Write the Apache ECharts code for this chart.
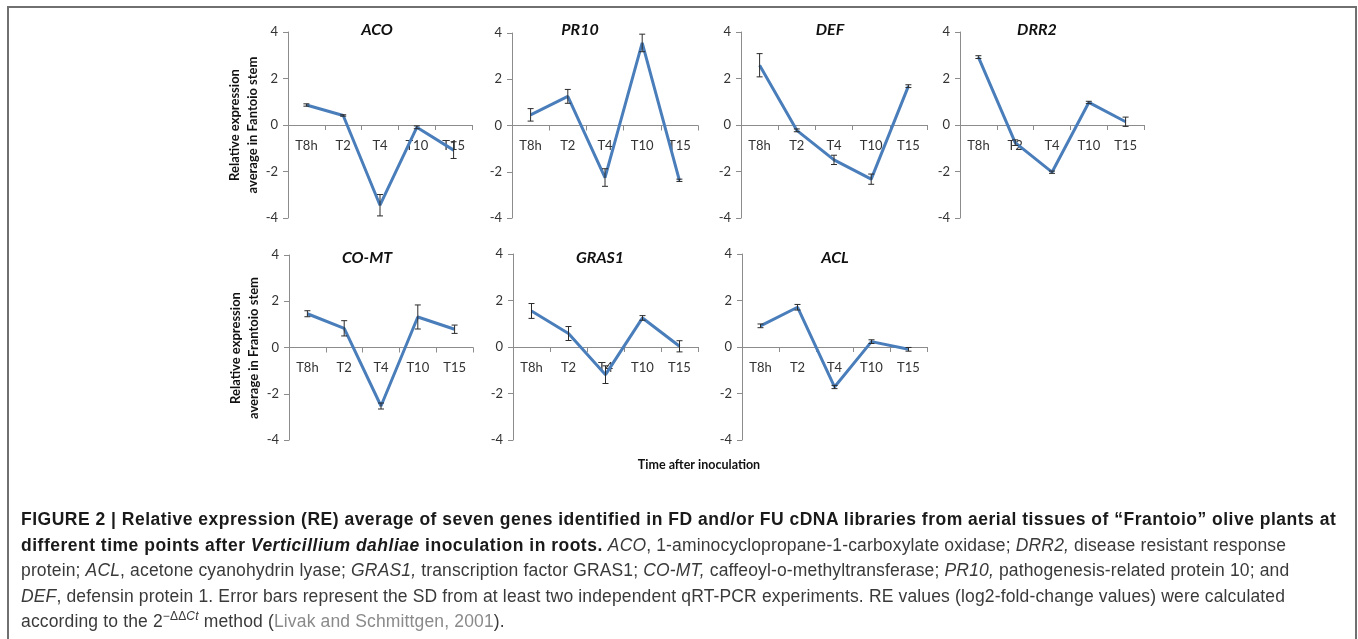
<!DOCTYPE html>
<html>
<head>
<meta charset="utf-8">
<script src="https://cdn.jsdelivr.net/npm/echarts@6/dist/echarts.min.js"></script>
<style>
	html, body { margin: 0; padding: 0; background: #fff; }
	#frame {
		position: absolute; left: 7px; top: 6px; width: 1346px; height: 700px;
		border: 2px solid #707070; border-bottom: none;
	}
	#chart { position: absolute; left: 0; top: 0; width: 1358px; height: 639px; }
	#caption {
		position: absolute; left: 21px; top: 507px; white-space: nowrap;
		font-family: 'Liberation Sans', Arial, sans-serif; font-size: 17.5px; line-height: 25.5px;
		color: #3a3a3a; letter-spacing: 0.15px;
	}
	#caption b { color: #1a1a1a; letter-spacing: 0.5px; }
	#caption .ref { color: #8a8a8a; }
	#caption sup { font-size: 12px; vertical-align: 7px; line-height: 0; }
</style>
</head>
<body>
<div id="frame"></div>
<div id="chart"></div>
<div id="caption">
	<b>FIGURE 2 | Relative expression (RE) average of seven genes identified in FD and/or FU cDNA libraries from aerial tissues of “Frantoio” olive plants at</b><br>
	<b>different time points after <i>Verticillium dahliae</i> inoculation in roots.</b> <i>ACO</i>, 1-aminocyclopropane-1-carboxylate oxidase; <i>DRR2,</i> disease resistant response<br>
	protein; <i>ACL</i>, acetone cyanohydrin lyase; <i>GRAS1,</i> transcription factor GRAS1; <i>CO-MT,</i> caffeoyl-o-methyltransferase; <i>PR10,</i> pathogenesis-related protein 10; and<br>
	<i>DEF</i>, defensin protein 1. Error bars represent the SD from at least two independent qRT-PCR experiments. RE values (log2-fold-change values) were calculated<br>
	according to the 2<sup>−ΔΔ<i>Ct</i></sup> method (<span class="ref">Livak and Schmittgen, 2001</span>).
</div>
<script>
var times = ['T8h', 'T2', 'T4', 'T10', 'T15']
var yTicks = [-4, -2, 0, 2, 4]

var acoMean = [0.86, 0.41, -3.45, -0.1, -1.08]
var acoSd = [0.05, 0.03, 0.46, 0.06, 0.36]
var pr10Mean = [0.46, 1.26, -2.25, 3.57, -2.37]
var pr10Sd = [0.27, 0.3, 0.38, 0.38, 0.05]
var defMean = [2.57, -0.23, -1.5, -2.33, 1.67]
var defSd = [0.5, 0.06, 0.2, 0.22, 0.06]
var drr2Mean = [2.92, -0.76, -2.03, 0.97, 0.14]
var drr2Sd = [0.06, 0.12, 0.05, 0.05, 0.2]
var comtMean = [1.46, 0.83, -2.53, 1.32, 0.79]
var comtSd = [0.13, 0.33, 0.13, 0.52, 0.18]
var gras1Mean = [1.55, 0.58, -1.19, 1.25, 0.03]
var gras1Sd = [0.32, 0.3, 0.38, 0.1, 0.24]
var aclMean = [0.91, 1.71, -1.72, 0.23, -0.1]
var aclSd = [0.08, 0.12, 0.07, 0.08, 0.08]

var genes = [
	{ name: 'ACO', mean: acoMean, sd: acoSd },
	{ name: 'PR10', mean: pr10Mean, sd: pr10Sd },
	{ name: 'DEF', mean: defMean, sd: defSd },
	{ name: 'DRR2', mean: drr2Mean, sd: drr2Sd },
	{ name: 'CO-MT', mean: comtMean, sd: comtSd },
	{ name: 'GRAS1', mean: gras1Mean, sd: gras1Sd },
	{ name: 'ACL', mean: aclMean, sd: aclSd },
]

// panel boxes: left, top (y=4), width, height, title x
var boxes = [
	{ left: 288, top: 32, width: 184, height: 186, tx: 377 },
	{ left: 512, top: 33, width: 186, height: 185, tx: 580 },
	{ left: 741, top: 32, width: 186, height: 186, tx: 830 },
	{ left: 960, top: 32, width: 184, height: 186, tx: 1037 },
	{ left: 289, top: 255, width: 184, height: 185, tx: 367 },
	{ left: 513, top: 254, width: 185, height: 186, tx: 600 },
	{ left: 742, top: 254, width: 185, height: 186, tx: 835 },
]

var font = 'Lato, "Open Sans", sans-serif'
var axisColor = '#8c8c8c'

function errRender(params, api) {
	var i = api.value(0)
	var m = api.value(1)
	var s = api.value(2)
	var hi = api.coord([i, m + s])
	var lo = api.coord([i, m - s])
	var w = 3
	var st = { stroke: '#2b2b2b', lineWidth: 1 }
	return {
		type: 'group',
		children: [
			{ type: 'line', shape: { x1: hi[0], y1: hi[1], x2: lo[0], y2: lo[1] }, style: st },
			{ type: 'line', shape: { x1: hi[0] - w, y1: hi[1], x2: hi[0] + w, y2: hi[1] }, style: st },
			{ type: 'line', shape: { x1: lo[0] - w, y1: lo[1], x2: lo[0] + w, y2: lo[1] }, style: st },
		],
	}
}

var grid = [], xAxis = [], yAxis = [], series = [], graphic = []

genes.forEach(function (g, k) {
	var b = boxes[k]
	grid.push({ left: b.left, top: b.top, width: b.width, height: b.height })
	// the y range is symmetric, so the zero line sits at mid height
	xAxis.push({
		type: 'category',
		gridIndex: k,
		data: times,
		position: 'bottom',
		offset: -b.height / 2,
		axisLine: { onZero: false, lineStyle: { color: axisColor, width: 1 } },
		axisTick: { show: true, length: 5, lineStyle: { color: axisColor } },
		axisLabel: { interval: 0, margin: 14, color: '#333', fontFamily: font, fontSize: 13 },
		splitLine: { show: false },
	})
	yAxis.push({
		type: 'value',
		gridIndex: k,
		min: yTicks[0],
		max: yTicks[yTicks.length - 1],
		interval: 2,
		axisLine: { show: true, lineStyle: { color: axisColor, width: 1 } },
		axisTick: { show: true, length: 5, lineStyle: { color: axisColor } },
		axisLabel: { margin: 10, color: '#333', fontFamily: font, fontSize: 13 },
		splitLine: { show: false },
	})
	series.push({
		type: 'line',
		xAxisIndex: k,
		yAxisIndex: k,
		data: g.mean,
		symbol: 'none',
		lineStyle: { color: '#4a7ebb', width: 3 },
		z: 2,
	})
	series.push({
		type: 'custom',
		xAxisIndex: k,
		yAxisIndex: k,
		renderItem: errRender,
		data: g.mean.map(function (m, i) {
			return [i, m, g.sd[i]]
		}),
		z: 3,
	})
	graphic.push({
		type: 'text',
		x: b.tx,
		y: k < 4 ? 30 : 258,
		style: {
			text: g.name,
			font: 'italic bold 16px ' + font,
			fill: '#111',
			align: 'center',
			verticalAlign: 'middle',
		},
	})
})

graphic.push({
	type: 'text',
	x: 244,
	y: 125,
	rotation: Math.PI / 2,
	style: {
		text: 'Relative expression\naverage in Fantoio stem',
		font: 'bold 13px ' + font,
		lineHeight: 18,
		fill: '#111',
		align: 'center',
		verticalAlign: 'middle',
	},
})
graphic.push({
	type: 'text',
	x: 245,
	y: 348,
	rotation: Math.PI / 2,
	style: {
		text: 'Relative expression\naverage in Frantoio stem',
		font: 'bold 13px ' + font,
		lineHeight: 18,
		fill: '#111',
		align: 'center',
		verticalAlign: 'middle',
	},
})
graphic.push({
	type: 'text',
	x: 699,
	y: 465,
	style: {
		text: 'Time after inoculation',
		font: 'bold 12.5px ' + font,
		fill: '#111',
		align: 'center',
		verticalAlign: 'middle',
	},
})

var chart = echarts.init(document.getElementById('chart'))
chart.setOption({
	animation: false,
	grid: grid,
	xAxis: xAxis,
	yAxis: yAxis,
	series: series,
	graphic: graphic,
})
</script>
</body>
</html>
